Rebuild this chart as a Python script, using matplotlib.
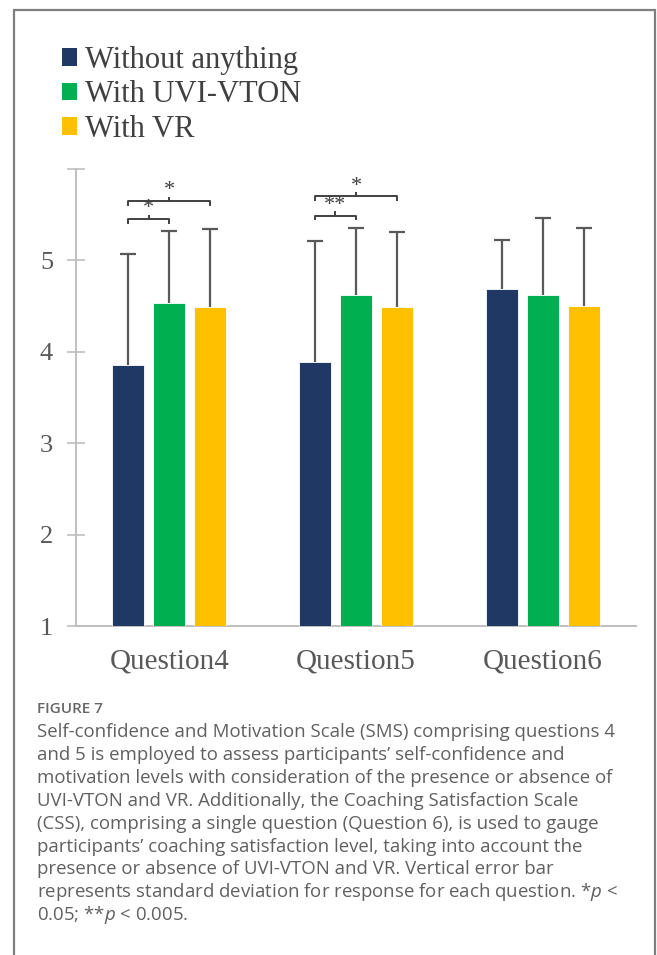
import numpy as np
import matplotlib.pyplot as plt
from matplotlib.patches import Rectangle, Patch

# 问卷结果：均值与标准差
questions = ['Question4', 'Question5', 'Question6']
groups = ['Without anything', 'With UVI-VTON', 'With VR']
colors = ['#1F3864', '#00B050', '#FFC000']

means = [
    [3.86, 3.89, 4.69],   # Without anything
    [4.53, 4.62, 4.62],   # With UVI-VTON
    [4.49, 4.49, 4.50],   # With VR
]
sds = [
    [1.21, 1.32, 0.53],
    [0.79, 0.73, 0.84],
    [0.85, 0.82, 0.85],
]

# 显著性标注: (题号, 组a, 组b, 高度, 记号)
sig_marks = [
    (0, 0, 1, 5.45, '*'),
    (0, 0, 2, 5.65, '*'),
    (1, 0, 1, 5.49, '**'),
    (1, 0, 2, 5.70, '*'),
]

caption_lines = [
    "Self-confidence and Motivation Scale (SMS) comprising questions 4",
    "and 5 is employed to assess participants\u2019 self-confidence and",
    "motivation levels with consideration of the presence or absence of",
    "UVI-VTON and VR. Additionally, the Coaching Satisfaction Scale",
    "(CSS), comprising a single question (Question 6), is used to gauge",
    "participants\u2019 coaching satisfaction level, taking into account the",
    "presence or absence of UVI-VTON and VR. Vertical error bar",
    "represents standard deviation for response for each question. *$p$ <",
    "0.05; **$p$ < 0.005.",
]

serif = ['Liberation Serif', 'DejaVu Serif']
W, H = 657, 955
fig = plt.figure(figsize=(W / 100, H / 100), dpi=100)
plt.rcParams['mathtext.fontset'] = 'custom'
plt.rcParams['mathtext.it'] = 'Open Sans:italic'

# 外框
fig.patches.append(Rectangle((14 / W, -0.01), (655 - 14) / W, 1 - 10 / H + 0.01,
                             transform=fig.transFigure, fill=False,
                             edgecolor='#7f7f7f', linewidth=1.6))

ax = fig.add_axes([76 / W, 1 - 626 / H, (636 - 76) / W, (626 - 169) / H])

x = np.arange(len(questions))
step = 0.22
width = 0.172
for i in range(len(groups)):
    pos = x + (i - 1) * step
    m = np.array(means[i])
    top = m + np.array(sds[i])
    ax.bar(pos, m - 1, width, bottom=1, color=colors[i],
           edgecolor='white', linewidth=0.6, zorder=2)
    # 只画向上的误差线
    ax.vlines(pos, m, top, color='#595959', linewidth=1.6, zorder=3)
    ax.plot(pos, top, ls='none', marker='_', ms=11, mew=1.6, color='#595959', zorder=3)

# 显著性括号
for q, a, b, h, txt in sig_marks:
    xa = q + (a - 1) * step
    xb = q + (b - 1) * step
    xm = (xa + xb) / 2
    ax.plot([xa, xa, xb, xb], [h - 0.04, h, h, h - 0.04], color='#404040', lw=1.4,
            solid_joinstyle='round', zorder=4)
    ax.plot([xm, xm], [h, h + 0.035], color='#404040', lw=1.4, zorder=4)
    ax.text(xm, h + 0.01, txt, ha='center', va='bottom', fontsize=16,
            family=serif, color='#404040')

ax.set_xlim(-0.5, 2.5)
ax.set_ylim(1, 6)
ax.set_yticks([1, 2, 3, 4, 5, 6])
ax.set_yticklabels(['1', '2', '3', '4', '5', ''])
ax.set_xticks(x)
ax.set_xticklabels(questions)

for s in ['top', 'right']:
    ax.spines[s].set_visible(False)
for s in ['left', 'bottom']:
    ax.spines[s].set_color('#bfbfbf')
    ax.spines[s].set_linewidth(1.4)
ax.spines['bottom'].set_zorder(1)

ax.tick_params(axis='y', direction='inout', length=13, width=1.2, color='#bfbfbf',
               pad=10, labelsize=19, labelcolor='#595959')
ax.tick_params(axis='x', length=0, pad=16, labelsize=21, labelcolor='#595959')
for lab in ax.get_xticklabels() + ax.get_yticklabels():
    lab.set_family(serif)

# 图例
handles = [Patch(facecolor=c, edgecolor='none') for c in colors]
fig.legend(handles, groups, loc='upper left', bbox_to_anchor=(62 / W, 1 - 46 / H),
           frameon=False, prop={'family': serif, 'size': 22}, handlelength=0.5,
           handleheight=0.5, handletextpad=0.25, labelspacing=0.18, labelcolor='#404040',
           borderpad=0, borderaxespad=0)

# 图注
sans = ['Open Sans', 'DejaVu Sans']
fig.text(37 / W, 1 - 709 / H, 'FIGURE 7', fontsize=11, family=sans, weight='semibold',
         color='#666666', va='center')
for k, line in enumerate(caption_lines):
    fig.text(37 / W, 1 - (732 + 22.9 * k) / H, line, fontsize=13.45, family=sans,
             color='#606060', va='center')

fig.savefig('out.png', dpi=100)
